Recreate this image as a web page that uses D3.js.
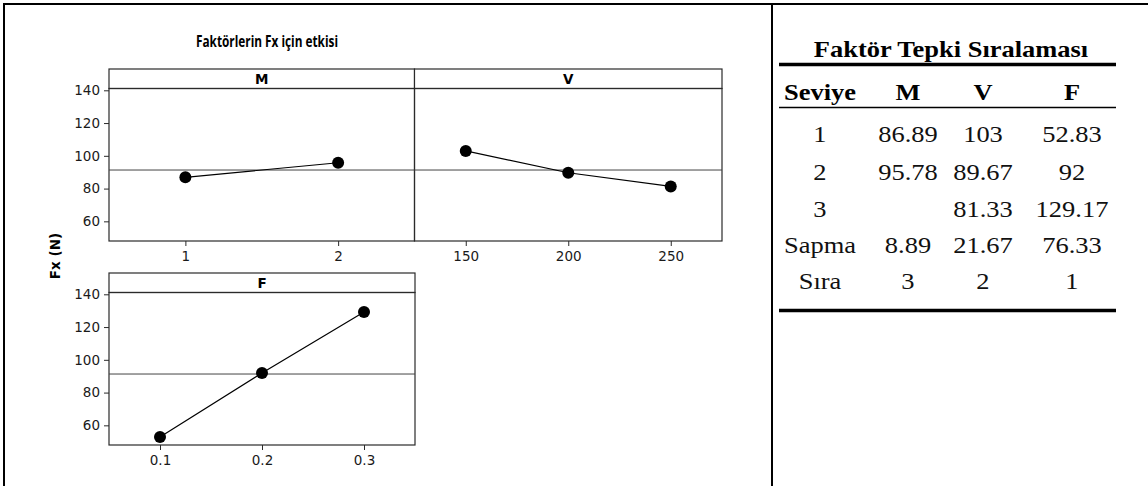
<!DOCTYPE html>
<html><head><meta charset="utf-8">
<script src="https://cdn.jsdelivr.net/npm/d3@7"></script>
<style>body{margin:0;background:#fff} svg{display:block}</style>
</head><body><svg id="c" width="1148" height="486"></svg>
<script>
// ---- data ----
const factorNames = ["M", "V", "F"];
const levelsM = [1, 2];
const meansM = [86.89, 95.78];
const levelsV = [150, 200, 250];
const meansV = [103, 89.67, 81.33];
const levelsF = [0.1, 0.2, 0.3];
const meansF = [52.83, 92, 129.17];
const grandMean = 91.33;
const yTicks = [60, 80, 100, 120, 140];
const xTickLabelsM = ["1", "2"];
const xTickLabelsV = ["150", "200", "250"];
const xTickLabelsF = ["0.1", "0.2", "0.3"];
const chartTitle = "Faktörlerin Fx için etkisi";
const yAxisTitle = "Fx (N)";
const tableTitle = "Faktör Tepki Sıralaması";
const tableHeader = ["Seviye", "M", "V", "F"];
const rowLabels = ["1", "2", "3", "Sapma", "Sıra"];
const colM = ["86.89", "95.78", "", "8.89", "3"];
const colV = ["103", "89.67", "81.33", "21.67", "2"];
const colF = ["52.83", "92", "129.17", "76.33", "1"];

// ---- layout ----
const svg = d3.select("#c");
const sans = "'DejaVu Sans', Verdana, sans-serif";
const serif = "'Liberation Serif', 'Times New Roman', serif";
const frame = "#2a2a2a";

// outer frame
svg.append("line").attr("x1", 3).attr("x2", 1148).attr("y1", 4).attr("y2", 4).attr("stroke", "#000").attr("stroke-width", 2);
svg.append("line").attr("x1", 4).attr("x2", 4).attr("y1", 3).attr("y2", 486).attr("stroke", "#000").attr("stroke-width", 2);
svg.append("line").attr("x1", 772).attr("x2", 772).attr("y1", 3).attr("y2", 486).attr("stroke", "#000").attr("stroke-width", 2);

// chart title
svg.append("text").attr("x", 267).attr("y", 47).attr("text-anchor", "middle")
  .attr("font-family", "'Liberation Sans Narrow', 'Open Sans', sans-serif").attr("font-weight", 700).attr("font-size", 15.5)
  .attr("textLength", 142).attr("lengthAdjust", "spacingAndGlyphs")
  .text(chartTitle);

// y axis title
svg.append("text").attr("transform", "translate(60,256) rotate(-90)").attr("text-anchor", "middle")
  .attr("font-family", sans).attr("font-weight", 700).attr("font-size", 13.5).text(yAxisTitle);

const headerH = 19.5, plotH = 152.5;
const yDomain = [48, 141.1];
const panels = [
  {name: factorNames[0], levels: levelsM, means: meansM, labels: xTickLabelsM, dom: [0.5, 2.5], x0: 109, x1: 414.5, y0: 69, yAxis: true},
  {name: factorNames[1], levels: levelsV, means: meansV, labels: xTickLabelsV, dom: [125, 275], x0: 414.5, x1: 722, y0: 69, yAxis: false},
  {name: factorNames[2], levels: levelsF, means: meansF, labels: xTickLabelsF, dom: [0.05, 0.35], x0: 109, x1: 415, y0: 273, yAxis: true}
];

panels.forEach(p => {
  const g = svg.append("g");
  const top = p.y0 + headerH, bottom = top + plotH;
  const x = d3.scaleLinear().domain(p.dom).range([p.x0, p.x1]);
  const y = d3.scaleLinear().domain(yDomain).range([bottom, top]);
  g.append("rect").attr("x", p.x0).attr("y", p.y0).attr("width", p.x1 - p.x0).attr("height", headerH)
    .attr("fill", "#fff").attr("stroke", frame).attr("stroke-width", 1.2);
  g.append("text").attr("x", (p.x0 + p.x1) / 2).attr("y", p.y0 + headerH / 2 + 5).attr("text-anchor", "middle")
    .attr("font-family", sans).attr("font-weight", 700).attr("font-size", 13.5).text(p.name);
  g.append("rect").attr("x", p.x0).attr("y", top).attr("width", p.x1 - p.x0).attr("height", plotH)
    .attr("fill", "none").attr("stroke", frame).attr("stroke-width", 1.2);
  g.append("line").attr("x1", p.x0).attr("x2", p.x1).attr("y1", y(grandMean)).attr("y2", y(grandMean))
    .attr("stroke", "#444").attr("stroke-width", 1);
  const pts = p.levels.map((l, i) => [x(l), y(p.means[i])]);
  g.append("path").attr("d", d3.line()(pts)).attr("fill", "none").attr("stroke", "#000").attr("stroke-width", 1.2);
  g.selectAll("circle.pt").data(p.levels).join("circle").attr("class", "pt")
    .attr("cx", d => x(d)).attr("cy", (d, i) => y(p.means[i])).attr("r", 6).attr("fill", "#000");
  const xa = g.append("g").attr("transform", `translate(0,${bottom})`)
    .call(d3.axisBottom(x).tickValues(p.levels).tickFormat((d, i) => p.labels[i]).tickSize(5).tickPadding(5));
  xa.select(".domain").remove();
  xa.selectAll("text").attr("font-family", sans).attr("font-size", 13.5).attr("fill", "#1a1a1a");
  xa.selectAll("line").attr("stroke", frame);
  if (p.yAxis) {
    const ya = g.append("g").attr("transform", `translate(${p.x0},0)`)
      .call(d3.axisLeft(y).tickValues(yTicks).tickSize(5).tickPadding(4));
    ya.select(".domain").remove();
    ya.selectAll("text").attr("font-family", sans).attr("font-size", 13.5).attr("fill", "#1a1a1a");
    ya.selectAll("line").attr("stroke", frame);
  }
});

// ---- table ----
const tLeft = 779, tRight = 1116;
const colX = [820, 908, 983, 1072];
const stretch = 1.15;
const tTexts = [];
tTexts.push(svg.append("text").attr("x", 951).attr("y", 57).attr("text-anchor", "middle")
  .attr("font-family", serif).attr("font-weight", 700).attr("font-size", 23).text(tableTitle));
svg.append("line").attr("x1", tLeft).attr("x2", tRight).attr("y1", 64.5).attr("y2", 64.5).attr("stroke", "#000").attr("stroke-width", 3.5);
svg.selectAll("text.th").data(tableHeader).join("text").attr("class", "th")
  .attr("x", (d, i) => colX[i]).attr("y", 100).attr("text-anchor", "middle")
  .attr("font-family", serif).attr("font-weight", 700).attr("font-size", 23).text(d => d);
svg.append("line").attr("x1", tLeft).attr("x2", tRight).attr("y1", 107.5).attr("y2", 107.5).attr("stroke", "#000").attr("stroke-width", 1.3);
const rowY = [141.5, 180, 216.5, 253, 289];
const cols = [rowLabels, colM, colV, colF];
cols.forEach((col, ci) => {
  svg.selectAll(`text.c${ci}`).data(col).join("text").attr("class", `c${ci}`)
    .attr("x", colX[ci]).attr("y", (d, i) => rowY[i]).attr("text-anchor", "middle")
    .attr("font-family", serif).attr("font-size", 23).attr("fill", "#111").text(d => d);
});
svg.append("line").attr("x1", tLeft).attr("x2", tRight).attr("y1", 310.5).attr("y2", 310.5).attr("stroke", "#000").attr("stroke-width", 3.5);
// slight horizontal widening of table text, as in the reference
svg.selectAll("text.th, text.c0, text.c1, text.c2, text.c3").each(function () {
  const len = this.getComputedTextLength();
  if (len > 0) d3.select(this).attr("textLength", len * stretch).attr("lengthAdjust", "spacingAndGlyphs");
});
tTexts.forEach(t => {
  const len = t.node().getComputedTextLength();
  t.attr("textLength", len * stretch).attr("lengthAdjust", "spacingAndGlyphs");
});
</script></body></html>
